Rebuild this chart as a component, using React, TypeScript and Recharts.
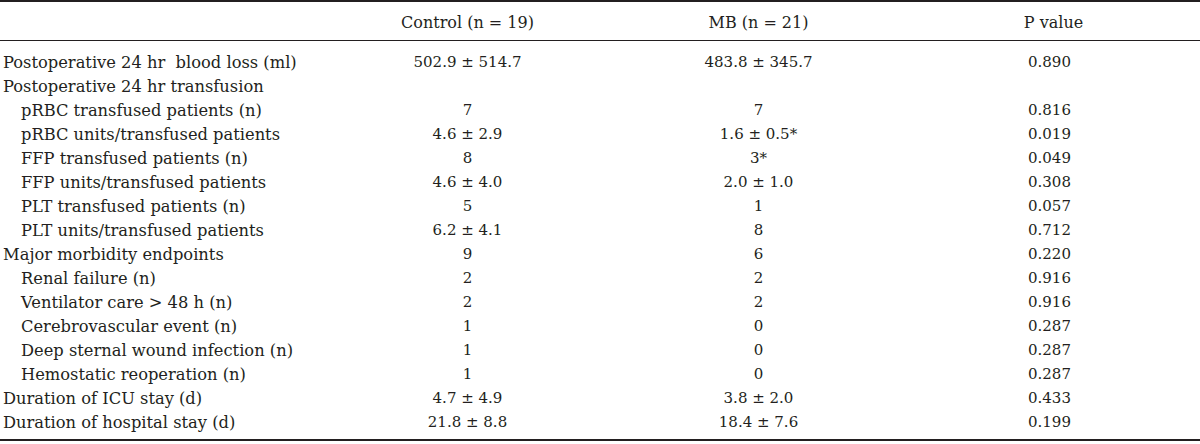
import { ScatterChart, Scatter, XAxis, YAxis } from 'recharts'

const columnHeaders = ['Control (n = 19)', 'MB (n = 21)', 'P value']

const rowLabels = [
  'Postoperative 24 hr  blood loss (ml)',
  'Postoperative 24 hr transfusion',
  'pRBC transfused patients (n)',
  'pRBC units/transfused patients',
  'FFP transfused patients (n)',
  'FFP units/transfused patients',
  'PLT transfused patients (n)',
  'PLT units/transfused patients',
  'Major morbidity endpoints',
  'Renal failure (n)',
  'Ventilator care > 48 h (n)',
  'Cerebrovascular event (n)',
  'Deep sternal wound infection (n)',
  'Hemostatic reoperation (n)',
  'Duration of ICU stay (d)',
  'Duration of hospital stay (d)',
]

// sub-items are indented under their group heading
const subItem = [false, false, true, true, true, true, true, true, false, true, true, true, true, true, false, false]

const controlValues = ['502.9 ± 514.7', '', '7', '4.6 ± 2.9', '8', '4.6 ± 4.0', '5', '6.2 ± 4.1', '9', '2', '2', '1', '1', '1', '4.7 ± 4.9', '21.8 ± 8.8']
const mbValues = ['483.8 ± 345.7', '', '7', '1.6 ± 0.5*', '3*', '2.0 ± 1.0', '1', '8', '6', '2', '2', '0', '0', '0', '3.8 ± 2.0', '18.4 ± 7.6']
const pValues = ['0.890', '', '0.816', '0.019', '0.049', '0.308', '0.057', '0.712', '0.220', '0.916', '0.916', '0.287', '0.287', '0.287', '0.433', '0.199']

const FONT = '"DejaVu Serif", serif'
const INK = '#231f20'

const series = [controlValues, mbValues, pValues].map((vals, ci) =>
  rowLabels.map((row, ri) => ({ col: columnHeaders[ci], row, text: vals[ri] }))
)

function CellText(props: any) {
  const { cx, cy, payload } = props
  return (
    <text x={cx} y={cy} dy="0.35em" textAnchor="middle" fill={INK} fontSize={15} fontWeight="normal" fontFamily={FONT} style={{ whiteSpace: 'pre' }}>
      {payload.text}
    </text>
  )
}

function RowTick({ y, payload }: any) {
  const i = rowLabels.indexOf(payload.value)
  return (
    <text x={subItem[i] ? 21 : 3} y={y} dy="0.35em" textAnchor="start" fill={INK} fontSize={16.3} fontWeight="normal" fontFamily={FONT} style={{ whiteSpace: 'pre' }}>
      {payload.value}
    </text>
  )
}

function HeaderTick({ x, payload }: any) {
  const shift = payload.value === 'P value' ? 4 : 0
  return (
    <text x={x + shift} y={22} dy="0.35em" textAnchor="middle" fill={INK} fontSize={16} fontWeight="normal" fontFamily={FONT}>
      {payload.value}
    </text>
  )
}

const rule = (top: number, h: number) => (
  <div style={{ position: 'absolute', left: 0, top, width: 1200, height: h, background: INK }} />
)

export default function App() {
  return (
    <div style={{ position: 'relative', width: 1200, height: 444, background: '#fff' }}>
      <style>{'body{margin:0}'}</style>
      <ScatterChart width={1200} height={444} margin={{ top: 10, right: 5, bottom: 10, left: 0 }}>
        <XAxis
          xAxisId={0}
          type="category"
          dataKey="col"
          orientation="top"
          height={40}
          scale="band"
          ticks={columnHeaders}
          allowDuplicatedCategory={false}
          axisLine={false}
          tickLine={false}
          tick={<HeaderTick />}
          interval={0}
        />
        <YAxis
          yAxisId={0}
          type="category"
          dataKey="row"
          width={322}
          scale="band"
          reversed
          allowDuplicatedCategory={false}
          axisLine={false}
          tickLine={false}
          tick={<RowTick />}
          interval={0}
        />
        {series.map((d, i) => (
          <Scatter key={i} data={d} shape={<CellText />} isAnimationActive={false} />
        ))}
      </ScatterChart>
      {rule(0, 2)}
      {rule(40, 1)}
      {rule(439, 2)}
    </div>
  )
}
